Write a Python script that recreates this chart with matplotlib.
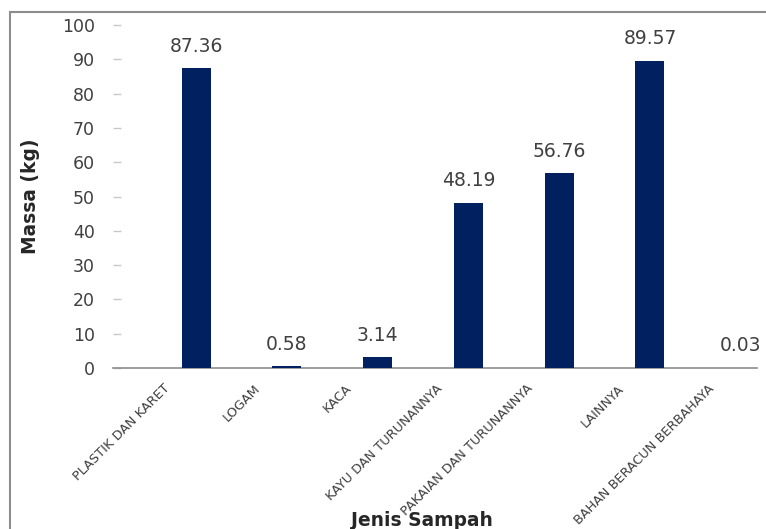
import matplotlib
matplotlib.use('Agg')
import matplotlib.pyplot as plt
from matplotlib.patches import Rectangle

# Jenis sampah dan massa (kg)
categories = ['PLASTIK DAN KARET', 'LOGAM', 'KACA', 'KAYU DAN TURUNANNYA',
              'PAKAIAN DAN TURUNANNYA', 'LAINNYA', 'BAHAN BERACUN BERBAHAYA']
massa = [87.36, 0.58, 3.14, 48.19, 56.76, 89.57, 0.03]
value_labels = ['87.36', '0.58', '3.14', '48.19', '56.76', '89.57', '0.03']
yticks = [0, 10, 20, 30, 40, 50, 60, 70, 80, 90, 100]

bar_color = '#002060'
text_color = '#404040'
plt.rcParams['font.family'] = ['DejaVu Sans']

W, H = 766, 529
ax_left, ax_right, ax_top, ax_bottom = 113, 757, 25, 368
step = 90.8          # pixels per category
first_bar = 196      # pixel centre of the first bar

fig = plt.figure(figsize=(W / 100, H / 100), dpi=100)
ax = fig.add_axes([ax_left / W, 1 - ax_bottom / H,
                   (ax_right - ax_left) / W, (ax_bottom - ax_top) / H])

xs = list(range(len(categories)))
bars = ax.bar(xs, massa, width=29 / step, color=bar_color, zorder=3)

for x, v, lab in zip(xs, massa, value_labels):
    ax.annotate(lab, (x, v), xytext=(0, 9), textcoords='offset points',
                ha='center', va='bottom', fontsize=13.5, color=text_color)

x0 = -(first_bar - ax_left) / step
ax.set_xlim(x0, x0 + (ax_right - ax_left) / step)
ax.set_ylim(0, 100)
ax.set_yticks(yticks)
ax.set_yticklabels([str(t) for t in yticks], fontsize=12.5, color=text_color)
ax.tick_params(axis='y', direction='in', length=5.5, width=1.0,
               color='#c8c8c8', pad=13)

# category labels sit left of the bars (empty second series in the original)
ax.set_xticks([x - 33 / step for x in xs])
ax.set_xticklabels(categories, rotation=45, ha='right', va='top',
                   rotation_mode='anchor', fontsize=9.3, color=text_color)
ax.tick_params(axis='x', length=0, pad=10)

for s in ['top', 'right', 'left']:
    ax.spines[s].set_visible(False)
ax.spines['bottom'].set_color('#8c8c8c')
ax.spines['bottom'].set_linewidth(1.2)

ax.set_ylabel('Massa (kg)', fontsize=13.4, fontweight='bold', color='#262626')
ax.yaxis.set_label_coords(-(ax_left - 40) / (ax_right - ax_left), 0.5)
fig.text(422 / W, 1 - 520 / H, 'Jenis Sampah', ha='center', va='center',
         fontsize=13.4, fontweight='bold', color='#262626')

# chart border (cropped on the right and bottom)
fig.patches.append(Rectangle((10 / W, -0.05), 1.0, 1 - 12 / H + 0.05,
                             transform=fig.transFigure, fill=False,
                             edgecolor='#8c8c8c', linewidth=1.5))

fig.savefig('out.png', dpi=100)
